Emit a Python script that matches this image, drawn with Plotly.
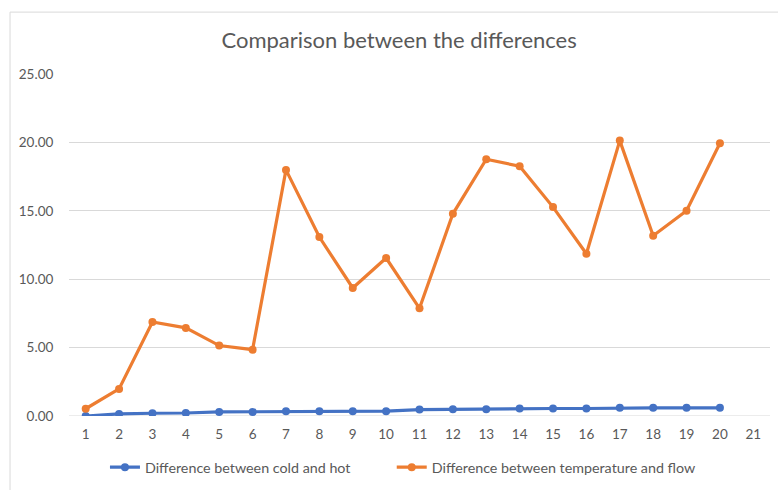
import plotly.graph_objects as go

# Sample index along the category axis (21 slots, 20 measured)
categories = list(range(1, 22))
samples = list(range(1, 21))

cold_hot_diff = [0.00, 0.15, 0.20, 0.22, 0.30, 0.30, 0.35, 0.35, 0.35, 0.35,
                 0.47, 0.50, 0.50, 0.55, 0.55, 0.55, 0.60, 0.60, 0.60, 0.60]
temp_flow_diff = [0.53, 1.98, 6.87, 6.44, 5.15, 4.85, 17.99, 13.08, 9.36, 11.55,
                  7.87, 14.78, 18.77, 18.26, 15.27, 11.86, 20.13, 13.18, 15.00, 19.94]

y_ticks = [0, 5, 10, 15, 20, 25]

BLUE = "#4472C4"
ORANGE = "#ED7D31"
GREY_TEXT = "#595959"
GRID = "#D9D9D9"
FONT = "Lato, 'Open Sans', sans-serif"

fig = go.Figure()
fig.add_trace(go.Scatter(
    x=samples, y=cold_hot_diff, mode="lines+markers",
    name="Difference between cold and hot",
    line=dict(color=BLUE, width=3.2), marker=dict(color=BLUE, size=8),
    legend="legend",
))
fig.add_trace(go.Scatter(
    x=samples, y=temp_flow_diff, mode="lines+markers",
    name="Difference between temperature and flow",
    line=dict(color=ORANGE, width=3.2), marker=dict(color=ORANGE, size=8),
    legend="legend2",
))

legend_style = dict(orientation="h", xanchor="left", y=-0.147, yanchor="middle",
                    font=dict(family=FONT, size=14.3, color=GREY_TEXT),
                    itemwidth=30, bgcolor="rgba(0,0,0,0)")

fig.update_layout(
    width=778, height=490,
    margin=dict(l=69, r=8, t=74, b=73),
    paper_bgcolor="white", plot_bgcolor="white",
    font=dict(family=FONT, color=GREY_TEXT, size=12),
    title=dict(text="Comparison between the differences", x=0.513, xanchor="center",
               y=0.918, yanchor="middle",
               font=dict(family=FONT, size=22, color=GREY_TEXT)),
    showlegend=True,
    legend=dict(x=0.0513, **legend_style),
    legend2=dict(x=0.4604, **legend_style),
    xaxis=dict(range=[0.5, 21.5], tickmode="array", tickvals=categories,
               ticktext=[str(c) for c in categories], showgrid=False,
               zeroline=False, showline=False, ticks="outside", ticklen=6,
               tickcolor="rgba(0,0,0,0)", tickfont=dict(size=13.5)),
    yaxis=dict(range=[0, 25], tickmode="array", tickvals=y_ticks,
               ticktext=[f"{v:.2f}" for v in y_ticks], showgrid=True,
               gridcolor=GRID, gridwidth=1, zeroline=False, showline=False,
               ticks="outside", ticklen=12, tickcolor="rgba(0,0,0,0)",
               tickfont=dict(size=13.5)),
    shapes=[dict(type="rect", xref="paper", yref="paper",
                 x0=-0.0841, x1=1.05, y0=-0.4, y1=1.181,
                 line=dict(color=GRID, width=1), layer="below")],
)
# keep the bottom gridline at zero visible
fig.add_hline(y=0, line=dict(color=GRID, width=1), layer="below")

fig.write_html("out.html")
